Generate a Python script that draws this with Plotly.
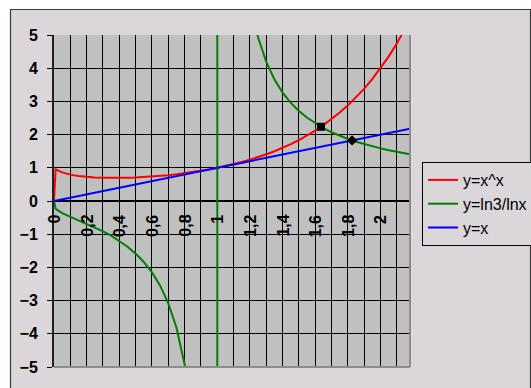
import plotly.graph_objects as go

# Sample points shared by y=x^x and y=ln3/lnx (x^x at 0 plotted as 0)
x_pow = [0, 0.01, 0.05, 0.10, 0.15, 0.20, 0.25, 0.30, 0.35, 0.40, 0.45, 0.50,
         0.55, 0.60, 0.65, 0.70, 0.75, 0.80, 0.85, 0.90, 0.95, 1.00, 1.05, 1.10,
         1.15, 1.20, 1.25, 1.30, 1.35, 1.40, 1.45, 1.50, 1.55, 1.60, 1.65, 1.70,
         1.75, 1.80, 1.85, 1.90, 1.95, 2.00, 2.05, 2.10, 2.15, 2.18]
y_pow = [0, 0.955, 0.861, 0.794, 0.752, 0.725, 0.707, 0.697, 0.6925, 0.693, 0.698, 0.707,
         0.720, 0.736, 0.756, 0.779, 0.806, 0.837, 0.871, 0.910, 0.952, 1.000, 1.053, 1.111,
         1.174, 1.245, 1.322, 1.406, 1.500, 1.602, 1.714, 1.837, 1.972, 2.121, 2.285, 2.465,
         2.663, 2.881, 3.121, 3.386, 3.678, 4.000, 4.356, 4.750, 5.185, 5.470]

x_log = [0, 0.01, 0.05, 0.10, 0.15, 0.20, 0.25, 0.30, 0.35, 0.40, 0.45, 0.50,
         0.55, 0.60, 0.65, 0.70, 0.75, 0.80, 0.85, 0.90, 0.95, 0.999, 1.001, 1.05,
         1.10, 1.15, 1.20, 1.25, 1.30, 1.35, 1.40, 1.45, 1.50, 1.55, 1.60, 1.65,
         1.70, 1.75, 1.80, 1.85, 1.90, 1.95, 2.00, 2.05, 2.10, 2.15, 2.18]
y_log = [0, -0.239, -0.367, -0.477, -0.579, -0.683, -0.792, -0.912, -1.046, -1.199, -1.376, -1.585,
         -1.838, -2.151, -2.550, -3.080, -3.819, -4.923, -6.760, -10.43, -21.42, -1098, 1099, 22.52,
         11.53, 7.861, 6.026, 4.923, 4.187, 3.661, 3.265, 2.957, 2.709, 2.507, 2.337, 2.194,
         2.070, 1.963, 1.869, 1.786, 1.712, 1.645, 1.585, 1.530, 1.481, 1.435, 1.410]

x_lin = [0, 2.18]
y_lin = [0, 2.18]

# Intersection points
sq_x, sq_y = [1.635], [2.235]      # x^x = ln3/lnx
dm_x, dm_y = [1.8254], [1.8254]    # x = ln3/lnx

x_tick_vals = [0, 0.2, 0.4, 0.6, 0.8, 1.0, 1.2, 1.4, 1.6, 1.8, 2.0]
x_tick_text = ["0", "0,2", "0,4", "0,6", "0,8", "1", "1,2", "1,4", "1,6", "1,8", "2"]
y_tick_vals = [-5, -4, -3, -2, -1, 0, 1, 2, 3, 4, 5]

W, H = 531, 388
L, R, T, B = 54, 410, 35, 367          # plot area in pixels
FONT = "Arial, Liberation Sans, sans-serif"
CHART_BG = "#DAD6DA"


def px(xp):
    return (xp - L) / (R - L)


def py(yp):
    return (B - yp) / (B - T)


fig = go.Figure()
fig.add_trace(go.Scatter(x=x_pow, y=y_pow, mode="lines", name="y=x^x",
                         line=dict(color="#FF0000", width=2), legendgroup="a"))
fig.add_trace(go.Scatter(x=x_log, y=y_log, mode="lines", name="y=ln3/lnx",
                         line=dict(color="#008000", width=2), legendgroup="b"))
fig.add_trace(go.Scatter(x=x_lin, y=y_lin, mode="lines", name="y=x",
                         line=dict(color="#0000FF", width=2), legendgroup="c"))
fig.add_trace(go.Scatter(x=sq_x, y=sq_y, mode="markers", showlegend=False,
                         marker=dict(symbol="square", size=8, color="black")))
fig.add_trace(go.Scatter(x=dm_x, y=dm_y, mode="markers", showlegend=False,
                         marker=dict(symbol="diamond", size=8, color="black")))

annotations = [
    dict(x=v, y=0, xref="x", yref="y", text=t, textangle=-90, showarrow=False,
         xanchor="center", yanchor="top", yshift=-12,
         font=dict(family=FONT, size=16, color="black", weight="bold"))
    for v, t in zip(x_tick_vals, x_tick_text)
]

shapes = [
    # white margin strips outside the chart area
    dict(type="rect", xref="paper", yref="paper", x0=px(0), x1=px(10), y0=py(H + 5), y1=py(0),
         fillcolor="white", line_width=0),
    dict(type="rect", xref="paper", yref="paper", x0=px(0), x1=px(W + 5), y0=py(9), y1=py(0),
         fillcolor="white", line_width=0),
    # chart area border
    dict(type="rect", xref="paper", yref="paper", x0=px(10.5), x1=px(530.5), y0=py(H + 5), y1=py(9.5),
         line=dict(color="#3A3A3A", width=1.2)),
    # plot area frame (right and bottom edges)
    dict(type="line", xref="paper", yref="paper", x0=1, x1=1, y0=0, y1=1,
         line=dict(color="#8C8C8C", width=2)),
    dict(type="line", xref="paper", yref="paper", x0=0, x1=1, y0=0, y1=0,
         line=dict(color="#8C8C8C", width=2)),
]

fig.update_layout(
    width=W, height=H,
    margin=dict(l=L, r=W - R, t=T, b=H - B, pad=0, autoexpand=False),
    paper_bgcolor=CHART_BG,
    plot_bgcolor="#C0C0C0",
    font=dict(family=FONT, color="black"),
    showlegend=True,
    legend=dict(x=px(422), y=py(162), xanchor="left", yanchor="top",
                bgcolor=CHART_BG, bordercolor="black", borderwidth=1,
                font=dict(family=FONT, size=16, color="black"),
                tracegroupgap=3, traceorder="normal"),
    xaxis=dict(range=[0, 2.18], dtick=0.1, tick0=0, showgrid=True, gridcolor="black",
               gridwidth=1, showticklabels=False, ticks="", zeroline=False, showline=False),
    yaxis=dict(range=[-5, 5], tickvals=y_tick_vals, showgrid=True, gridcolor="black",
               gridwidth=1, zeroline=True, zerolinecolor="black", zerolinewidth=1.5,
               showline=True, linecolor="#202020", linewidth=2,
               ticks="outside", ticklen=5, tickcolor="black", ticklabelstandoff=6,
               tickfont=dict(family=FONT, size=16, color="black", weight="bold")),
    annotations=annotations,
    shapes=shapes,
)

fig.write_html("out.html")
